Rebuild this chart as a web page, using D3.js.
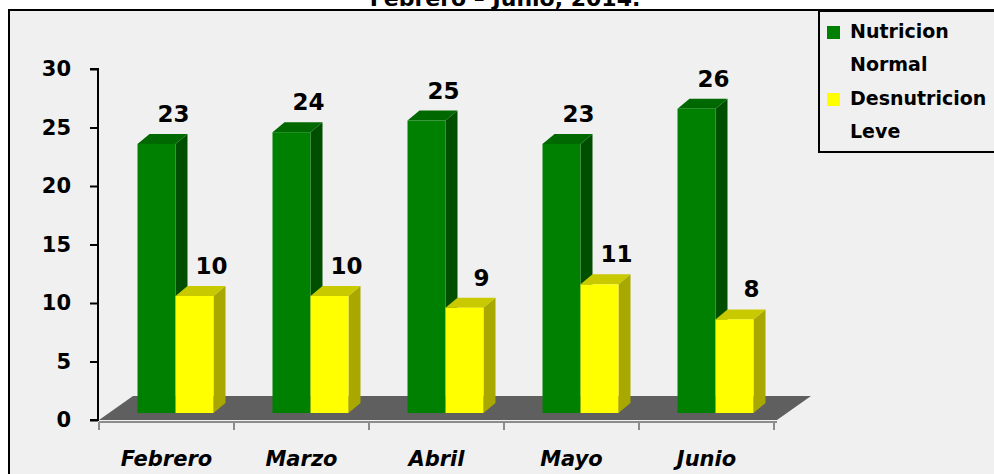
<!DOCTYPE html>
<html>
<head>
<meta charset="utf-8">
<script src="https://cdnjs.cloudflare.com/ajax/libs/d3/7.8.5/d3.min.js"></script>
<style>
  body { margin: 0; background: #fff; }
  text { font-family: "DejaVu Sans", sans-serif; font-weight: bold; fill: #000; }
</style>
</head>
<body>
<script>
// chart data
var months = ["Febrero", "Marzo", "Abril", "Mayo", "Junio"];
var normal = [23, 24, 25, 23, 26];
var leve = [10, 10, 9, 11, 8];
var seriesNames = ["Nutricion Normal", "Desnutricion Leve"];
var yTicks = [0, 5, 10, 15, 20, 25, 30];
var title = "Febrero \u2013 Junio, 2014.";

//Width and height
var w = 994;
var h = 474;

// 3d look
var floorDx = 34, floorDy = -24;
var barDx = 9, barDy = -7;      // where bar front sits on the floor
var depthDx = 12, depthDy = -10; // bar depth
var barW = 38;

var colors = [
    { front: "#008000", top: "#006800", side: "#004f00" },
    { front: "#ffff00", top: "#c9c900", side: "#a8a800" }
];

var svg = d3.select("body")
            .append("svg")
            .attr("width", w)
            .attr("height", h);

// panel background + border
svg.append("rect")
   .attr("x", 9).attr("y", 10)
   .attr("width", w).attr("height", h)
   .attr("fill", "#f0f0f0")
   .attr("stroke", "#000")
   .attr("stroke-width", 2);

// title (only the last line shows, cut by the top)
svg.append("text")
   .attr("x", 505).attr("y", 6)
   .attr("text-anchor", "middle")
   .style("font-size", "22px")
   .text(title);

var x = d3.scaleBand()
          .domain(months)
          .range([99, 774]);

var y = d3.scaleLinear()
          .domain([0, 30])
          .range([420, 69]);

// floor
var x0 = x.range()[0], x1 = x.range()[1] + 3, y0 = y(0);
svg.append("polygon")
   .attr("points", [[x0, y0], [x0 + floorDx, y0 + floorDy], [x1 + floorDx, y0 + floorDy], [x1, y0]].join(" "))
   .attr("fill", "#5f5f5f");

// x axis line + ticks
svg.append("line")
   .attr("x1", x0).attr("x2", x1)
   .attr("y1", y0 + 2).attr("y2", y0 + 2)
   .attr("stroke", "#8c8c8c").attr("stroke-width", 2);

var xTickPos = months.map(function(m) { return x(m); }).concat([x.range()[1]]);
svg.selectAll(".xtick")
   .data(xTickPos)
   .enter()
   .append("line")
   .attr("class", "xtick")
   .attr("x1", function(d) { return d; })
   .attr("x2", function(d) { return d; })
   .attr("y1", y0 + 2).attr("y2", y0 + 10)
   .attr("stroke", "#8c8c8c").attr("stroke-width", 2);

svg.selectAll(".xlabel")
   .data(months)
   .enter()
   .append("text")
   .attr("class", "xlabel")
   .attr("x", function(d) { return x(d) + x.bandwidth() / 2; })
   .attr("y", 466)
   .attr("text-anchor", "middle")
   .style("font-size", "21px")
   .style("font-style", "italic")
   .text(function(d) { return d; });

// y axis
var yAxis = d3.axisLeft(y)
              .tickValues(yTicks)
              .tickSize(8)
              .tickPadding(19);

var gy = svg.append("g")
            .attr("transform", "translate(98,0)")
            .call(yAxis);
gy.select(".domain").attr("stroke", "#000").attr("stroke-width", 2)
  .attr("d", "M-8," + y(30) + "H0V" + y(0) + "H-8");
gy.selectAll(".tick line").attr("stroke", "#000").attr("stroke-width", 2);
gy.selectAll(".tick text")
  .style("font-size", "21px")
  .style("font-family", "'DejaVu Sans', sans-serif")
  .style("font-weight", "bold")
  .attr("fill", "#000");

// bars
function drawBar(g, left, v, c) {
    var bx = left + barDx;
    var by0 = y(0) + barDy;
    var by1 = y(v) + barDy;
    // side
    g.append("polygon")
     .attr("points", [[bx + barW, by0], [bx + barW + depthDx, by0 + depthDy], [bx + barW + depthDx, by1 + depthDy], [bx + barW, by1]].join(" "))
     .attr("fill", c.side);
    // top
    g.append("polygon")
     .attr("points", [[bx, by1], [bx + depthDx, by1 + depthDy], [bx + barW + depthDx, by1 + depthDy], [bx + barW, by1]].join(" "))
     .attr("fill", c.top);
    // front
    g.append("rect")
     .attr("x", bx).attr("y", by1)
     .attr("width", barW).attr("height", by0 - by1)
     .attr("fill", c.front);
}

months.forEach(function(m, i) {
    var g = svg.append("g").attr("class", "group");
    var mid = x(m) + x.bandwidth() / 2;
    [normal[i], leve[i]].forEach(function(v, s) {
        var left = mid - barW + s * barW;
        drawBar(g, left, v, colors[s]);
    });
});

// value labels
months.forEach(function(m, i) {
    var mid = x(m) + x.bandwidth() / 2;
    [normal[i], leve[i]].forEach(function(v, s) {
        var cx = mid - barW + s * barW + barDx + barW / 2 + 17;
        svg.append("text")
           .attr("x", cx)
           .attr("y", y(v) + barDy + depthDy - 12)
           .attr("text-anchor", "middle")
           .style("font-size", "23px")
           .text(v);
    });
});

// legend
var legend = svg.append("g");
legend.append("rect")
      .attr("x", 819).attr("y", 11)
      .attr("width", 200).attr("height", 141)
      .attr("fill", "#f0f0f0")
      .attr("stroke", "#000")
      .attr("stroke-width", 2);

seriesNames.forEach(function(name, i) {
    var words = name.split(" ");
    var top = 25 + i * 67;
    legend.append("rect")
          .attr("x", 827).attr("y", top + 1)
          .attr("width", 13).attr("height", 13)
          .attr("fill", colors[i].front);
    words.forEach(function(wd, j) {
        legend.append("text")
              .attr("x", 850)
              .attr("y", top + 13 + j * 33)
              .style("font-size", "19px")
              .text(wd);
    });
});
</script>
</body>
</html>
